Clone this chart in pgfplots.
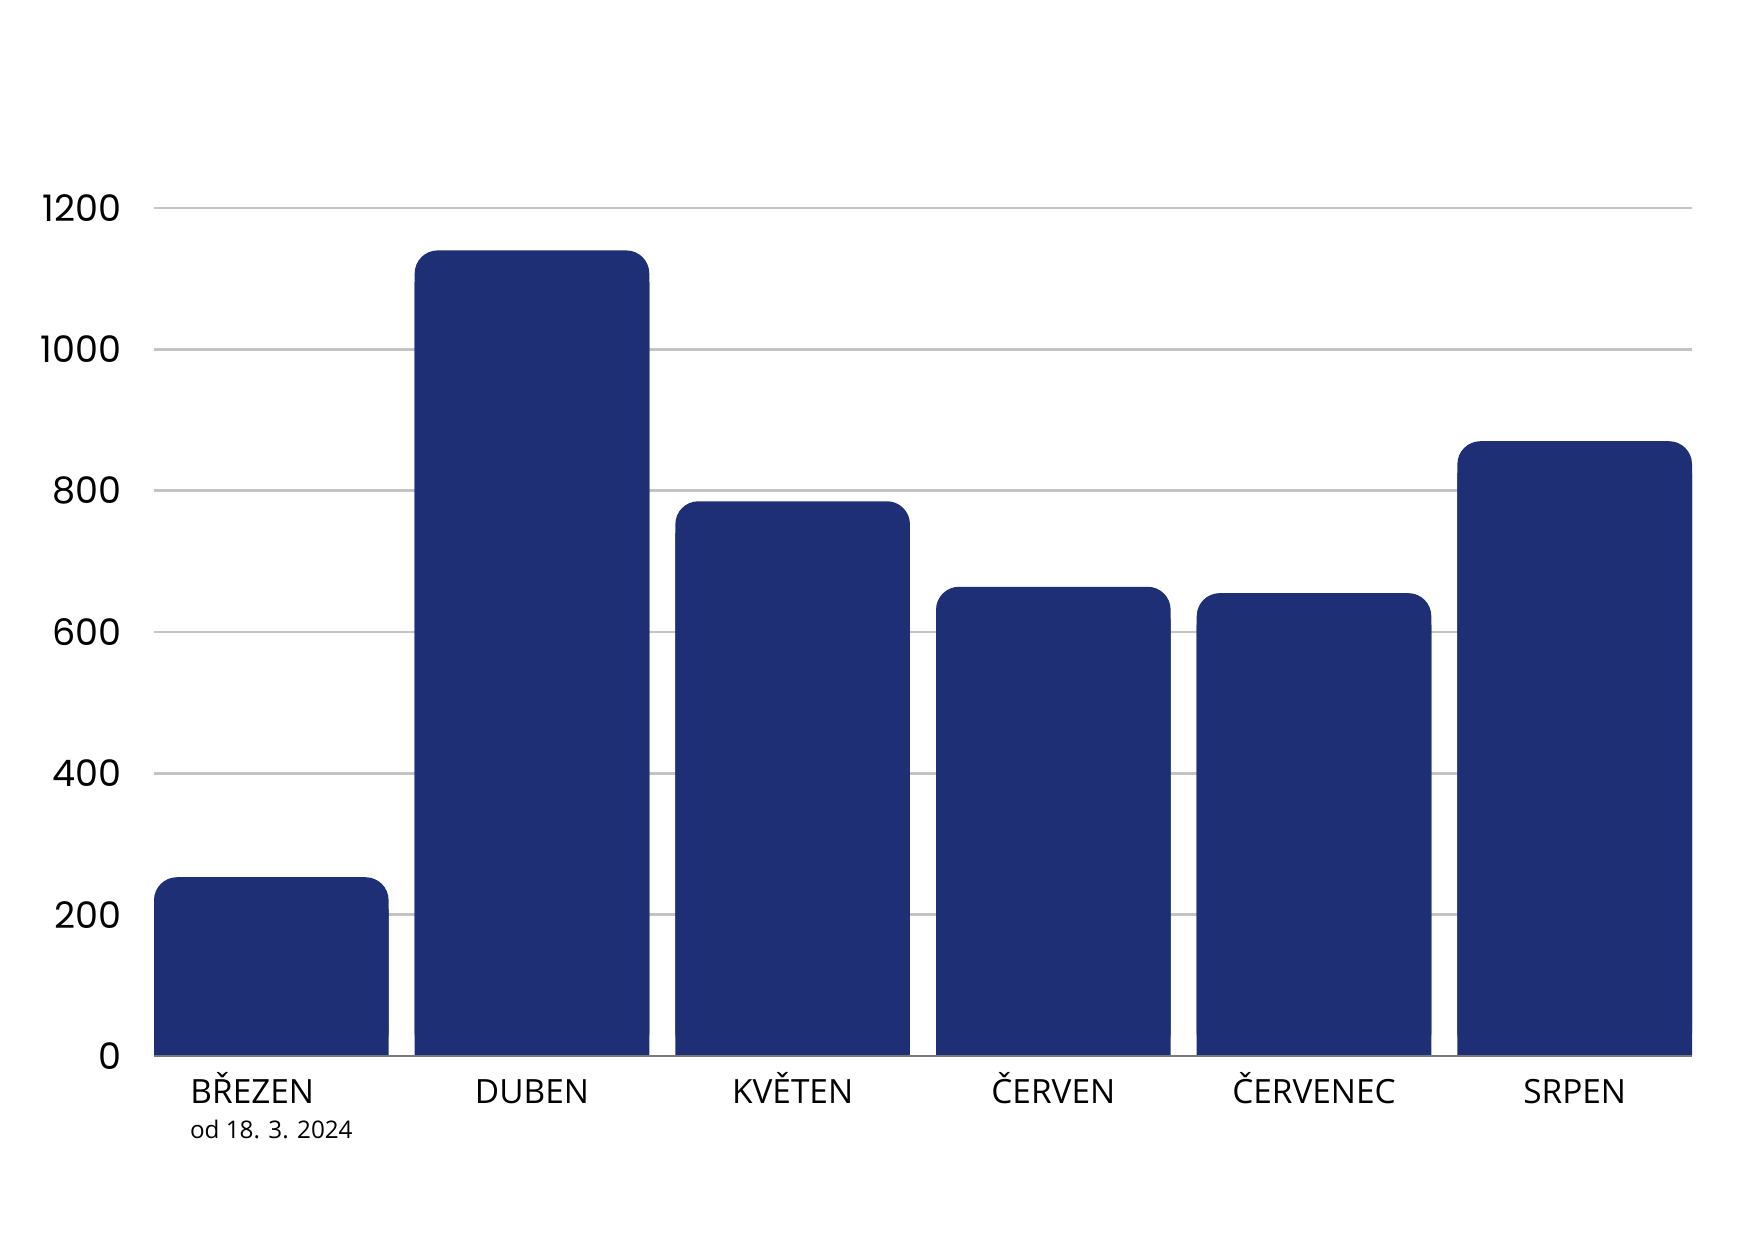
\documentclass[border=0pt]{standalone}
\usepackage{fontspec}
\setmainfont{Open Sans}
\newfontfamily\numfont{Poppins}
\usepackage{pgfplots}
\pgfplotsset{compat=1.18}
\usepackage{pgfplotstable}
\definecolor{barblue}{HTML}{1E2F75}
\definecolor{gridgray}{HTML}{C4C4C4}
\definecolor{basegray}{HTML}{7A7A7A}
\pgfplotstableread{
x v
0 253
1 1140
2 785
3 664
4 655
5 870
}\datatable
\begin{document}
\begin{tikzpicture}
\path[use as bounding box] (0,0) rectangle (174.8mm,124mm);
\begin{axis}[
  at={(15.4mm,18.4mm)}, anchor=south west,
  width=153.8mm, height=84.8mm, scale only axis,
  xmin=-0.45, xmax=5.45, ymin=0, ymax=1200,
  axis line style={draw=none},
  ytick={0,200,...,1200},
  xtick={0,1,2,3,4,5},
  xticklabels={{\begin{tabular}[t]{@{}c@{}}\hspace*{-3.8mm}BŘEZEN\\{\fontsize{6.9}{8}\selectfont od 18. 3. 2024}\end{tabular}},DUBEN,KVĚTEN,ČERVEN,ČERVENEC,SRPEN},
  major tick length=0pt,
  ymajorgrids,
  grid style={gridgray, line width=0.85pt},
  /pgf/number format/.cd, assume math mode=true, 1000 sep={},
  /pgfplots/.cd,
  yticklabel style={font=\numfont\fontsize{10.4}{12}\selectfont, anchor=east, inner sep=0pt, xshift=-3.2mm},
  xticklabel style={font=\fontsize{9.5}{10.2}\selectfont, anchor=base, inner sep=0pt, yshift=-4.7mm},
  clip=false,
]
\addplot[ybar, bar width=0.9, fill=barblue, draw=none, rounded corners=2.3mm] table[x=x, y=v] {\datatable};
\addplot[ybar, bar width=0.9, fill=barblue, draw=none] table[x=x, y expr=\thisrow{v}-45] {\datatable};
\addplot[basegray, line width=0.6pt] coordinates {(-0.45,0) (5.45,0)};
\end{axis}
\end{tikzpicture}
\end{document}
